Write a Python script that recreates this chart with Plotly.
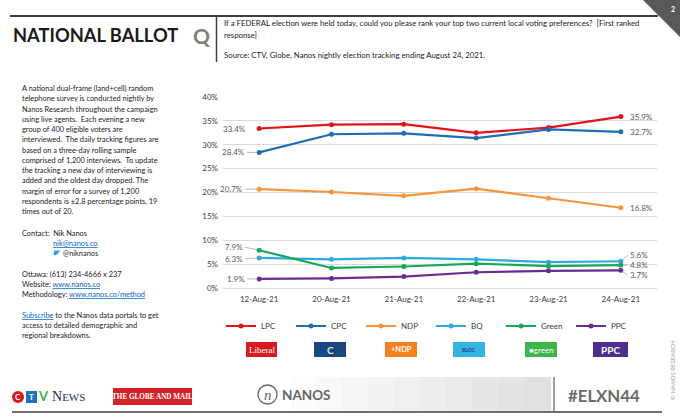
import plotly.graph_objects as go

dates = ["12-Aug-21", "20-Aug-21", "21-Aug-21", "22-Aug-21", "23-Aug-21", "24-Aug-21"]
parties = ["LPC", "CPC", "NDP", "BQ", "Green", "PPC"]
lpc = [33.4, 34.2, 34.3, 32.5, 33.6, 35.9]
cpc = [28.4, 32.2, 32.4, 31.4, 33.2, 32.7]
ndp = [20.7, 20.1, 19.3, 20.8, 18.8, 16.8]
bq = [6.3, 6.0, 6.3, 6.0, 5.4, 5.6]
green = [7.9, 4.2, 4.5, 5.1, 4.6, 4.8]
ppc = [1.9, 2.0, 2.4, 3.3, 3.6, 3.7]
series = [lpc, cpc, ndp, bq, green, ppc]
colors = ["#E3131B", "#1F6EB4", "#F7943C", "#2FAAE1", "#16A957", "#6A2C91"]
y_ticks = [0, 5, 10, 15, 20, 25, 30, 35, 40]
y_tick_labels = ["0%", "5%", "10%", "15%", "20%", "25%", "30%", "35%", "40%"]

W, H = 680, 420
L, R, T, B = 223, 23, 97, 132
PW, PH = W - L - R, H - T - B


def px(x):
    return (x - L) / PW


def py(y):
    return (H - B - y) / PH


FONT = "Lato"
fig = go.Figure()
for name, vals, col in zip(parties, series, colors):
    fig.add_trace(go.Scatter(
        x=dates, y=vals, name=name, mode="lines+markers",
        line=dict(color=col, width=2.2),
        marker=dict(size=5, color=col),
    ))

ann = []
lab_font = dict(family=FONT, size=8, color="#595959")
left_offsets = {"LPC": (-11, 0, False), "CPC": (-12, 0, True), "NDP": (-14, 0, True),
                "BQ": (-14, 1, True), "Green": (-14, -3, True), "PPC": (-12, 0, True)}
right_offsets = {"LPC": (7, 0, False), "CPC": (7, 0, False), "NDP": (7, 0, False),
                 "BQ": (7, -6, True), "Green": (7, 0, True), "PPC": (7, 5, True)}
for name, vals in zip(parties, series):
    ax, ay, arrow = left_offsets[name]
    ann.append(dict(x=dates[0], y=vals[0], xref="x", yref="y", text=f"{vals[0]:.1f}%",
                    showarrow=arrow, ax=ax, ay=ay, arrowhead=0, arrowwidth=0.8,
                    arrowcolor="#A6A6A6", standoff=2, xanchor="right",
                    xshift=0 if arrow else ax, yshift=0 if arrow else ay,
                    font=lab_font))
    ax, ay, arrow = right_offsets[name]
    ann.append(dict(x=dates[-1], y=vals[-1], xref="x", yref="y", text=f"{vals[-1]:.1f}%",
                    showarrow=arrow, ax=ax, ay=ay, arrowhead=0, arrowwidth=0.8,
                    arrowcolor="#A6A6A6", standoff=2, xanchor="left",
                    xshift=0 if arrow else ax, yshift=0 if arrow else ay,
                    font=lab_font))

shapes = []


def text(x, y, s, size=9, color="#222222", anchor="left", family=FONT, bold=False, angle=0, yanchor="middle"):
    if bold:
        s = f"<b>{s}</b>"
    ann.append(dict(x=px(x), y=py(y), xref="paper", yref="paper", text=s, showarrow=False,
                    xanchor=anchor, yanchor=yanchor, textangle=angle,
                    font=dict(family=family, size=size, color=color)))


def rect(x0, y0, x1, y1, fill, line=None, lw=0):
    shapes.append(dict(type="rect", xref="paper", yref="paper", x0=px(x0), x1=px(x1),
                       y0=py(y1), y1=py(y0), fillcolor=fill,
                       line=dict(color=line or fill, width=lw), layer="below"))


def hline(x0, x1, y, color, w):
    shapes.append(dict(type="line", xref="paper", yref="paper", x0=px(x0), x1=px(x1),
                       y0=py(y), y1=py(y), line=dict(color=color, width=w)))


def vline(x, y0, y1, color, w):
    shapes.append(dict(type="line", xref="paper", yref="paper", x0=px(x), x1=px(x),
                       y0=py(y0), y1=py(y1), line=dict(color=color, width=w)))


# header
hline(10, 658, 16, "#3F3F3F", 2)
shapes.append(dict(type="path", xref="paper", yref="paper",
                   path=f"M {px(643)},{py(0)} L {px(681)},{py(0)} L {px(681)},{py(38)} Z",
                   fillcolor="#595959", line=dict(width=0)))
text(673, 9, "2", size=7, color="#FFFFFF", anchor="center", bold=True)
text(11, 35, "NATIONAL BALLOT", size=18.3, color="#1A1A1A", bold=True)
text(201, 35, "Q", size=21, color="#7F7F7F", anchor="center", bold=True)
vline(216.5, 17, 62, "#404040", 1.5)
text(222, 23, "If a FEDERAL election were held today, could you please rank your top two current local voting preferences?  [First ranked", size=7.8)
text(222, 35, "response]", size=7.8)
text(222, 55, "Source: CTV, Globe, Nanos nightly election tracking ending August 24, 2021.", size=7.8)

# left text block
left_lines = [
    "A national dual-frame (land+cell) random",
    "telephone survey is conducted nightly by",
    "Nanos Research throughout the campaign",
    "using live agents.  Each evening a new",
    "group of 400 eligible voters are",
    "interviewed.  The daily tracking figures are",
    "based on a three-day rolling sample",
    "comprised of 1,200 interviews.  To update",
    "the tracking a new day of interviewing is",
    "added and the oldest day dropped. The",
    "margin of error for a survey of 1,200",
    "respondents is \u00b12.8 percentage points, 19",
    "times out of 20.",
]
link = lambda s: f'<span style="color:#0563C1;text-decoration:underline">{s}</span>'
TS = 7.4
for i, s in enumerate(left_lines):
    text(20, 88.5 + i * 10.27, s, size=TS)
text(20, 233, "Contact:  Nik Nanos", size=TS)
text(51, 243.5, link("nik@nanos.co"), size=TS)
shapes.append(dict(type="path", xref="paper", yref="paper",
                   path=(f"M {px(53)},{py(254)} Q {px(56)},{py(257)} {px(59)},{py(252)} "
                         f"L {px(60)},{py(250)} L {px(58)},{py(250.5)} Q {px(56)},{py(251)} {px(54)},{py(250)} "
                         f"Q {px(55)},{py(253)} {px(53)},{py(254)} Z"),
                   fillcolor="#1DA1F2", line=dict(width=0)))
text(61, 253.5, "@niknanos", size=TS)
text(20, 274, "Ottawa: (613) 234-4666 x 237", size=TS)
text(20, 284.5, "Website: " + link("www.nanos.co"), size=TS)
text(20, 294.5, "Methodology: " + link("www.nanos.co/method"), size=TS)
text(20, 315, link("Subscribe") + " to the Nanos data portals to get", size=TS)
text(20, 325.5, "access to detailed demographic and", size=TS)
text(20, 335.5, "regional breakdowns.", size=TS)

# party logos under legend
logos = [
    (246, 277, "#D71920", "Liberal", "#FFFFFF", "Liberation Serif", 9),
    (314, 346, "#1B467F", "<b>C</b>", "#E8E8E8", FONT, 10),
    (385, 417, "#F58220", "<b>+NDP</b>", "#FFFFFF", FONT, 7.5),
    (453, 485, "#35B3E2", "<b>BLOC</b>", "#1B3C7A", FONT, 5),
    (525, 557, "#3DB54A", "\u25cfgreen", "#FFFFFF", FONT, 8),
    (593, 628, "#4F2D8E", "<b>PPC</b>", "#FFFFFF", FONT, 10),
]
for x0, x1, fill, s, fc, fam, sz in logos:
    rect(x0, 342, x1, 357, fill)
    text((x0 + x1) / 2, 349.5, s, size=sz, color=fc, anchor="center", family=fam)

# footer
for i in range(10):
    g = 252 - i * 3
    rect(290 + i * 26, 377, 290 + (i + 1) * 26 + 1, 411, f"rgb({g},{g},{g})")
hline(12, 662, 412, "#404040", 1.5)
vline(554, 377, 412, "#404040", 1)
shapes.append(dict(type="circle", xref="paper", yref="paper", x0=px(12), x1=px(24),
                   y0=py(403), y1=py(391), fillcolor="#D71920", line=dict(width=0)))
text(18, 397, "<b>C</b>", size=8, color="#FFFFFF", anchor="center")
rect(26, 391, 37, 403, "#1E73BE")
text(31.5, 397, "<b>T</b>", size=8, color="#FFFFFF", anchor="center")
text(43.5, 396, "<b>V</b>", size=13, color="#3AB54A", anchor="center")
text(50, 396, "N<span style='font-size:11px'>EWS</span>", size=14, color="#1B2A5E",
     family="Liberation Serif")
rect(113, 388, 192, 405, "#D2232A")
text(152.5, 396.5, "THE GLOBE AND MAIL", size=7.2, color="#FFFFFF", anchor="center",
     family="Liberation Serif", bold=True)
shapes.append(dict(type="circle", xref="paper", yref="paper", x0=px(258), x1=px(277),
                   y0=py(404), y1=py(385), line=dict(color="#666666", width=1.3)))
text(267.5, 395, "<i>n</i>", size=15, color="#666666", anchor="center", family="Liberation Serif")
text(280, 394.5, "NANOS", size=13.5, color="#666666", bold=True)
text(604, 395.5, "#ELXN44", size=16.8, color="#6B6B6B", anchor="center", bold=True)
text(672, 370, "\u00a9 NANOS RESEARCH", size=6, color="#9A9A9A", anchor="center", angle=-90)

fig.update_layout(
    width=W, height=H,
    margin=dict(l=L, r=R, t=T, b=B, autoexpand=False),
    paper_bgcolor="#FFFFFF", plot_bgcolor="#FFFFFF",
    font=dict(family=FONT, size=8, color="#404040"),
    xaxis=dict(type="category", range=[-0.5, 5.5], showgrid=False, showline=False,
               ticks="", ticklabelstandoff=5, tickfont=dict(size=8, color="#404040"),
               fixedrange=True),
    yaxis=dict(range=[0, 40], tickvals=y_ticks, ticktext=y_tick_labels,
               showgrid=True, gridcolor="#D9D9D9", gridwidth=1, zeroline=True,
               zerolinecolor="#D9D9D9", zerolinewidth=1, showline=False,
               ticklabelstandoff=4, tickfont=dict(size=8, color="#404040"), fixedrange=True),
    legend=dict(orientation="h", x=px(221), y=py(326), xanchor="left", yanchor="middle",
                itemwidth=30, entrywidth=25, entrywidthmode="pixels",
                font=dict(size=8, color="#404040"), bgcolor="rgba(0,0,0,0)"),
    annotations=ann,
    shapes=shapes,
    showlegend=True,
)
fig.write_html("out.html", config={"displayModeBar": False},
               post_script="document.body.style.margin='0';")
